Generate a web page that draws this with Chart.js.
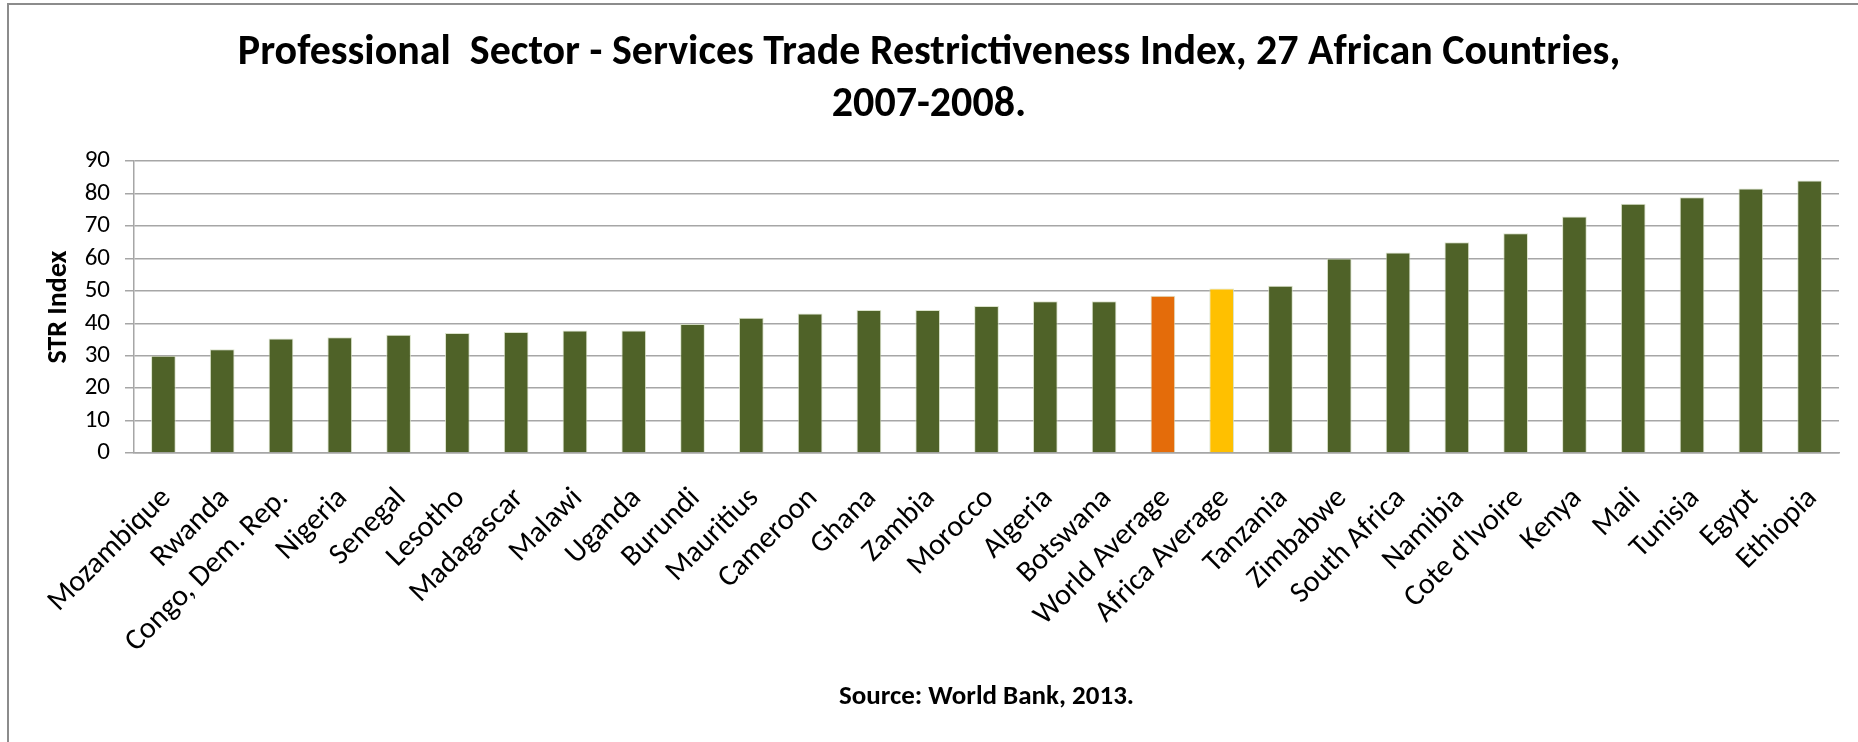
<!DOCTYPE html>
<html>
<head>
<meta charset="utf-8">
<script src="https://cdn.jsdelivr.net/npm/chart.js@4.4.1/dist/chart.umd.min.js"></script>
<style>
  html, body { margin: 0; padding: 0; background: #fff; }
  #wrap { position: relative; width: 1858px; height: 742px; }
  #frame { position: absolute; left: 7px; top: 3px; right: 0; bottom: 0;
           border-top: 2px solid #8c8c8c; border-left: 2px solid #8c8c8c; pointer-events: none; }
</style>
</head>
<body>
<div id="wrap">
  <canvas id="strChart" width="1858" height="742"></canvas>
  <div id="frame"></div>
</div>
<script>
// data
var countries = ['Mozambique', 'Rwanda', 'Congo, Dem. Rep.', 'Nigeria', 'Senegal', 'Lesotho',
    'Madagascar', 'Malawi', 'Uganda', 'Burundi', 'Mauritius', 'Cameroon', 'Ghana', 'Zambia',
    'Morocco', 'Algeria', 'Botswana', 'World Average', 'Africa Average', 'Tanzania', 'Zimbabwe',
    'South Africa', 'Namibia', "Cote d'Ivoire", 'Kenya', 'Mali', 'Tunisia', 'Egypt', 'Ethiopia'];
var strIndex = [30, 32, 35.3, 35.7, 36.5, 37, 37.3, 37.8, 37.8, 39.8, 41.7, 43, 44.1, 44.1,
    45.3, 46.8, 46.8, 48.5, 50.7, 51.6, 60, 61.8, 65, 67.8, 72.9, 76.9, 78.9, 81.6, 84];
var yMax = 90;
var yStep = 10;

var titleLines = ['Professional  Sector - Services Trade Restrictiveness Index, 27 African Countries,', '2007-2008.'];
var yTitle = 'STR Index';
var sourceNote = 'Source: World Bank, 2013.';

var fontName = 'Carlito, Lato, "Open Sans", sans-serif';
Chart.defaults.font.family = fontName;
Chart.defaults.color = '#000';

var barColors = [];
for (let i = 0; i < countries.length; i++) {
    if (countries[i] == 'World Average') barColors.push('#e46c0a');
    else if (countries[i] == 'Africa Average') barColors.push('#ffc000');
    else barColors.push('#4f6228');
}

var ctx = document.getElementById('strChart').getContext('2d');
var myChart = new Chart(ctx, {
    type: 'bar',
    data: {
        labels: countries,
        datasets: [{
            label: 'STR Index',
            data: strIndex,
            backgroundColor: barColors,
            borderColor: 'rgba(210,220,190,0.8)',
            borderWidth: 1,
            barPercentage: 0.42,
            categoryPercentage: 1
        }]
    },
    options: {
        responsive: false,
        animation: false,
        layout: { padding: { left: 19, right: 19, top: 0, bottom: 0 } },
        plugins: {
            legend: { display: false },
            tooltip: { enabled: false },
            title: {
                display: true,
                text: titleLines,
                font: { size: 42, weight: 'bold', lineHeight: 1.24 },
                padding: { top: 27, bottom: 30 }
            }
        },
        scales: {
            x: {
                grid: { display: false, drawTicks: false },
                border: { display: true, color: '#a6a6a6', width: 1.5 },
                ticks: {
                    autoSkip: false,
                    minRotation: 45,
                    maxRotation: 45,
                    padding: 28,
                    labelOffset: 3,
                    font: { size: 30 }
                },
                title: {
                    display: true,
                    text: sourceNote,
                    font: { size: 27, weight: 'bold', lineHeight: 1.2 },
                    padding: { top: 0, bottom: 29 }
                },
                afterFit: function (s) {
                    s.height = 742 - 453;
                    s.paddingLeft = 0;
                    s.paddingRight = 0;
                }
            },
            y: {
                min: 0,
                max: yMax,
                grid: { color: '#a6a6a6', lineWidth: 1.5, tickLength: 9 },
                border: { display: true, color: '#a6a6a6', width: 1.5 },
                ticks: { stepSize: yStep, autoSkip: false, padding: 15, font: { size: 25 } },
                title: {
                    display: true,
                    text: yTitle,
                    font: { size: 28, weight: 'bold', lineHeight: 1.2 },
                    padding: { top: 23, bottom: 0 }
                },
                afterFit: function (s) { s.width = 134 - 19; }
            }
        }
    }
});
</script>
</body>
</html>
